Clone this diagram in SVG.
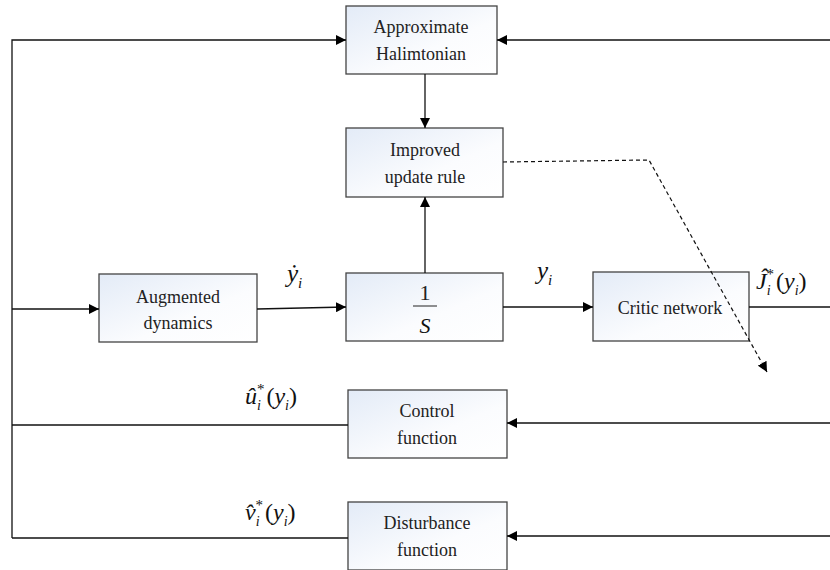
<svg xmlns="http://www.w3.org/2000/svg" width="830" height="570" viewBox="0 0 830 570">
<defs>
<linearGradient id="bg" x1="0" y1="0" x2="1" y2="1">
<stop offset="0" stop-color="#e3ebf7"/>
<stop offset="0.6" stop-color="#fbfcfe"/>
<stop offset="1" stop-color="#ffffff"/>
</linearGradient>
<marker id="ar" viewBox="0 0 10 10" refX="10" refY="5" markerWidth="10" markerHeight="10" markerUnits="userSpaceOnUse" orient="auto">
<path d="M0,0 L10,5 L0,10 z" fill="#000"/>
</marker>
</defs>
<style>
.box{fill:url(#bg);stroke:#444;stroke-width:1.3}
text{font-family:"Times New Roman",Tinos,"Liberation Serif","DejaVu Serif","Noto Serif",serif}
.t{font-size:18px;fill:#222;text-anchor:middle}
.m{font-style:italic;font-size:25px;fill:#111}
.c{fill:none;stroke:#111;stroke-width:1.3}
.d{fill:none;stroke:#111;stroke-width:1.2;stroke-dasharray:4,3}
</style>
<rect width="830" height="570" fill="#fff"/>
<g id="approx">
<rect class="box" x="346" y="6" width="151" height="68"/>
<text class="t" x="421" y="33">Approximate</text>
<text class="t" x="421" y="60">Halimtonian</text>
</g>
<g id="improved">
<rect class="box" x="346" y="128" width="157" height="69"/>
<text class="t" x="425" y="156">Improved</text>
<text class="t" x="425" y="183">update rule</text>
</g>
<g id="augmented">
<rect class="box" x="99" y="274" width="158" height="68"/>
<text class="t" x="178" y="303">Augmented</text>
<text class="t" x="178" y="329">dynamics</text>
</g>
<g id="integrator">
<rect class="box" x="346" y="273" width="157" height="68"/>
<text class="t" x="425" y="300" style="font-size:22px">1</text>
<line x1="413" y1="306" x2="437" y2="306" stroke="#222" stroke-width="1"/>
<text class="m" x="425" y="333" text-anchor="middle" style="font-size:22px">S</text>
</g>
<g id="critic">
<rect class="box" x="593" y="272" width="156" height="69"/>
<text class="t" x="670" y="314">Critic network</text>
</g>
<g id="control">
<rect class="box" x="348" y="390" width="159" height="68"/>
<text class="t" x="427" y="417">Control</text>
<text class="t" x="427" y="444">function</text>
</g>
<g id="disturbance">
<rect class="box" x="348" y="502" width="159" height="68"/>
<text class="t" x="427" y="529">Disturbance</text>
<text class="t" x="427" y="556">function</text>
</g>
<g id="labels">
<text class="m" x="287" y="282">ẏ<tspan dy="6" style="font-size:15px">i</tspan></text>
<text class="m" x="537" y="279">y<tspan dy="6" style="font-size:15px">i</tspan></text>
<text class="m" x="756" y="289" style="font-size:24px">Ĵ<tspan dy="6" style="font-size:14px">i</tspan><tspan dx="-4" dy="-16" style="font-size:15px;font-style:normal">*</tspan><tspan dx="2" dy="10" style="font-style:normal">(</tspan>y<tspan dy="6" style="font-size:14px">i</tspan><tspan dy="-6" style="font-style:normal">)</tspan></text>
<text class="m" x="245" y="404" style="font-size:24px">û<tspan dy="6" style="font-size:14px">i</tspan><tspan dx="-4" dy="-16" style="font-size:15px;font-style:normal">*</tspan><tspan dx="2" dy="10" style="font-style:normal">(</tspan>y<tspan dy="6" style="font-size:14px">i</tspan><tspan dy="-6" style="font-style:normal">)</tspan></text>
<text class="m" x="245" y="520" style="font-size:24px">v̂<tspan dy="6" style="font-size:14px">i</tspan><tspan dx="-4" dy="-16" style="font-size:15px;font-style:normal">*</tspan><tspan dx="2" dy="10" style="font-style:normal">(</tspan>y<tspan dy="6" style="font-size:14px">i</tspan><tspan dy="-6" style="font-style:normal">)</tspan></text>
</g>
<g id="connectors">
<polyline class="c" points="12,538 12,40 346,40" marker-end="url(#ar)"/>
<line class="c" x1="830" y1="40" x2="497" y2="40" marker-end="url(#ar)"/>
<line class="c" x1="425" y1="74" x2="425" y2="128" marker-end="url(#ar)"/>
<line class="c" x1="425" y1="273" x2="425" y2="197" marker-end="url(#ar)"/>
<line class="c" x1="12" y1="309" x2="99" y2="309" marker-end="url(#ar)"/>
<line class="c" x1="257" y1="309" x2="346" y2="307" marker-end="url(#ar)"/>
<line class="c" x1="503" y1="307" x2="593" y2="307" marker-end="url(#ar)"/>
<line class="c" x1="749" y1="307" x2="830" y2="307"/>
<line class="c" x1="830" y1="423" x2="507" y2="423" marker-end="url(#ar)"/>
<line class="c" x1="348" y1="425" x2="12" y2="425"/>
<line class="c" x1="830" y1="536" x2="507" y2="536" marker-end="url(#ar)"/>
<line class="c" x1="348" y1="538" x2="12" y2="538"/>
<polyline class="d" points="503,162 649,160 767,372" marker-end="url(#ar)"/>
</g>
</svg>
